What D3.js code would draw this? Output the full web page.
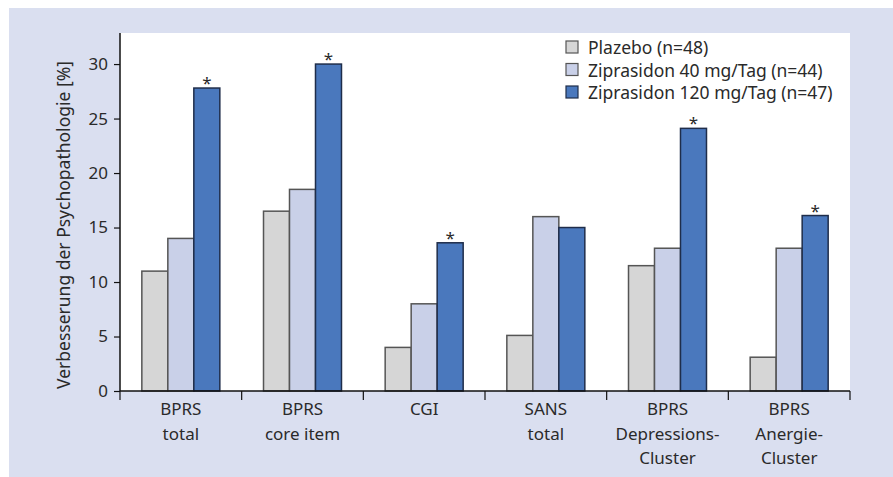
<!DOCTYPE html>
<html>
<head>
<meta charset="utf-8">
<script src="https://cdn.jsdelivr.net/npm/d3@7"></script>
<style>
  body { margin: 0; background: #fff; }
  svg { display: block; font-family: 'Noto Sans', 'Open Sans', sans-serif; }
</style>
</head>
<body>
<svg id="chart" width="893" height="477"></svg>
<script>
// chart data
const categories = [
  ['BPRS', 'total'],
  ['BPRS', 'core item'],
  ['CGI'],
  ['SANS', 'total'],
  ['BPRS', 'Depressions-', 'Cluster'],
  ['BPRS', 'Anergie-', 'Cluster']
];
const seriesNames = ['Plazebo (n=48)', 'Ziprasidon 40 mg/Tag (n=44)', 'Ziprasidon 120 mg/Tag (n=47)'];
const plazebo = [11, 16.5, 4, 5.1, 11.5, 3.1];
const zip40 = [14, 18.5, 8, 16, 13.1, 13.1];
const zip120 = [27.8, 30, 13.6, 15, 24.1, 16.1];
const significant = [true, true, true, false, true, true];
const yTicks = [0, 5, 10, 15, 20, 25, 30];

const fills = ['#d6d6d6', '#c9d0e8', '#4a78bd'];
const strokes = ['#555', '#555', '#1f2d4a'];
const textColor = '#2a2a2a';

const svg = d3.select('#chart');
const margin = { top: 33, right: 43, bottom: 86, left: 120 };
const width = 893, height = 477;

// background panel
svg.append('rect')
  .attr('x', 9).attr('y', 8)
  .attr('width', width - 9).attr('height', height - 8)
  .attr('fill', '#dadff0');

const x0 = d3.scaleBand()
  .domain(d3.range(categories.length))
  .range([margin.left, width - margin.right])
  .paddingInner(0).paddingOuter(0);

// 3 bars of ~26px centred in each category band
const x1 = d3.scaleBand()
  .domain(d3.range(seriesNames.length))
  .range([0, x0.bandwidth()])
  .paddingOuter(0.84).paddingInner(0);

const y = d3.scaleLinear()
  .domain([0, 32.85])
  .range([height - margin.bottom, margin.top]);

// plot area
svg.append('rect')
  .attr('x', margin.left).attr('y', margin.top)
  .attr('width', width - margin.right - margin.left)
  .attr('height', height - margin.bottom - margin.top)
  .attr('fill', '#fff');

const series = [plazebo, zip40, zip120];

const groups = svg.append('g')
  .selectAll('g')
  .data(categories)
  .enter()
  .append('g')
  .attr('transform', (d, i) => 'translate(' + x0(i) + ',0)');

groups.selectAll('rect')
  .data((d, i) => series.map((s, k) => ({ k: k, v: s[i] })))
  .enter()
  .append('rect')
  .attr('x', d => x1(d.k))
  .attr('y', d => y(d.v))
  .attr('width', x1.bandwidth())
  .attr('height', d => y(0) - y(d.v))
  .attr('fill', d => fills[d.k])
  .attr('stroke', d => strokes[d.k])
  .attr('stroke-width', 1.5);

// asterisks
groups.filter((d, i) => significant[i])
  .append('text')
  .attr('x', x1(2) + x1.bandwidth() / 2)
  .attr('y', d => y(zip120[categories.indexOf(d)]) + 1)
  .attr('text-anchor', 'middle')
  .style('font-size', '17px')
  .attr('fill', textColor)
  .text('*');

// y axis
const yAxis = svg.append('g')
  .attr('transform', 'translate(' + margin.left + ',0)')
  .call(d3.axisLeft(y).tickValues(yTicks).tickSize(6).tickPadding(6));
yAxis.select('.domain').attr('d', 'M0,' + margin.top + 'V' + y(0)).attr('stroke', '#111').attr('stroke-width', 1.5);
yAxis.selectAll('.tick line').attr('stroke', '#111').attr('stroke-width', 1.2);
yAxis.selectAll('.tick text')
  .style('font-size', '17px')
  .style('font-family', "'Noto Sans', sans-serif")
  .attr('fill', textColor);

// x axis
const xAxisG = svg.append('g');
xAxisG.append('line')
  .attr('x1', margin.left).attr('x2', width - margin.right)
  .attr('y1', y(0)).attr('y2', y(0))
  .attr('stroke', '#111').attr('stroke-width', 1.5);
xAxisG.selectAll('.xtick')
  .data(d3.range(categories.length + 1))
  .enter()
  .append('line')
  .attr('x1', i => margin.left + i * x0.bandwidth())
  .attr('x2', i => margin.left + i * x0.bandwidth())
  .attr('y1', y(0)).attr('y2', y(0) + 9)
  .attr('stroke', '#111').attr('stroke-width', 1.2);

const labels = xAxisG.selectAll('.xlabel')
  .data(categories)
  .enter()
  .append('text')
  .attr('x', (d, i) => x0(i) + x0.bandwidth() / 2)
  .attr('y', y(0) + 24)
  .attr('text-anchor', 'middle')
  .style('font-size', '17px')
  .attr('fill', textColor);
labels.selectAll('tspan')
  .data(d => d)
  .enter()
  .append('tspan')
  .attr('x', function () { return d3.select(this.parentNode).attr('x'); })
  .attr('dy', (d, i) => i === 0 ? 0 : 24.5)
  .text(d => d);

// y label
svg.append('text')
  .attr('transform', 'translate(70,' + 225 + ') rotate(-90)')
  .attr('text-anchor', 'middle')
  .style('font-size', '17.5px')
  .attr('fill', textColor)
  .text('Verbesserung der Psychopathologie [%]');

// legend
const legend = svg.append('g')
  .selectAll('g')
  .data(seriesNames)
  .enter()
  .append('g')
  .attr('transform', (d, i) => 'translate(566,' + (41 + i * 22.5) + ')');
legend.append('rect')
  .attr('width', 12).attr('height', 12)
  .attr('fill', (d, i) => fills[i])
  .attr('stroke', (d, i) => strokes[i])
  .attr('stroke-width', 1.2);
legend.append('text')
  .attr('x', 22).attr('y', 13)
  .style('font-size', '17.5px')
  .attr('fill', textColor)
  .text(d => d);
</script>
</body>
</html>
